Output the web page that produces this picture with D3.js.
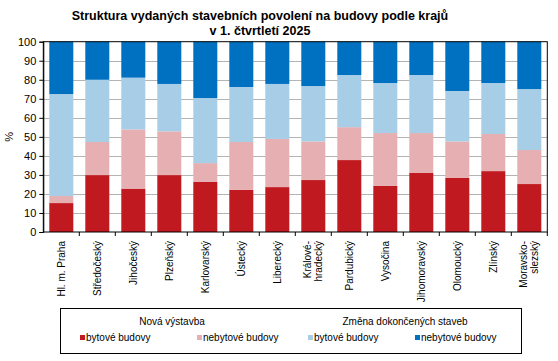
<!DOCTYPE html>
<html>
<head>
<meta charset="utf-8">
<script src="https://cdn.jsdelivr.net/npm/d3@7"></script>
<style>
  body { margin: 0; background: #fff; }
  text { font-family: "Liberation Sans", Arial, sans-serif; }
</style>
</head>
<body>
<div id="chart"></div>
<script>
const WIDTH = 558;
const HEIGHT = 361;

// plot area
const LEFT = 43.3, RIGHT = 547.3, TOP = 41.7, BOTTOM = 232;

const regions = [
  ["Hl. m. Praha"], ["Středočeský"], ["Jihočeský"], ["Plzeňský"], ["Karlovarský"],
  ["Ústecký"], ["Liberecký"], ["Králové-", "hradecký"], ["Pardubický"], ["Vysočina"],
  ["Jihomoravský"], ["Olomoucký"], ["Zlínský"], ["Moravsko-", "slezský"]
];
const regionKeys = regions.map(d => d.join(""));

// % shares
const novaByt    = [15.2, 29.9, 22.8, 29.9, 26.3, 22.1, 23.6, 27.3, 37.8, 24.2, 31.0, 28.4, 32.0, 25.2];
const novaNebyt  = [ 3.7, 17.4, 31.1, 23.0,  9.9, 25.2, 25.3, 20.3, 17.3, 27.8, 21.0, 19.2, 19.5, 17.9];
const zmenaByt   = [53.6, 32.7, 27.2, 24.9, 34.2, 28.9, 28.9, 29.1, 27.4, 26.3, 30.5, 26.5, 26.8, 32.0];
const zmenaNebyt = [27.5, 20.0, 18.9, 22.2, 29.6, 23.8, 22.2, 23.3, 17.5, 21.7, 17.5, 25.9, 21.7, 24.9];

const seriesKeys = ["novaByt", "novaNebyt", "zmenaByt", "zmenaNebyt"];
const seriesNames = ["bytové budovy", "nebytové budovy", "bytové budovy", "nebytové budovy"];
const colors = ["#C0191F", "#E6AFB2", "#A7CDE7", "#0070C0"];
const yTicks = [0, 10, 20, 30, 40, 50, 60, 70, 80, 90, 100];

const rows = regionKeys.map((k, i) => ({
  key: k,
  novaByt: novaByt[i], novaNebyt: novaNebyt[i],
  zmenaByt: zmenaByt[i], zmenaNebyt: zmenaNebyt[i]
}));

const svg = d3.select("#chart").append("svg")
  .attr("width", WIDTH)
  .attr("height", HEIGHT);

svg.append("rect").attr("width", WIDTH).attr("height", HEIGHT).attr("fill", "#fff");

const x = d3.scaleBand().domain(regionKeys).range([LEFT, RIGHT])
  .paddingInner(1 / 3).paddingOuter(1 / 6);
const y = d3.scaleLinear().domain([0, 100]).range([BOTTOM, TOP]);

// Title
const title = svg.append("text")
  .attr("text-anchor", "middle")
  .style("font-size", "12.5px")
  .style("font-weight", "bold");
title.append("tspan").attr("x", 260).attr("y", 19.5).text("Struktura vydaných stavebních povolení na budovy podle krajů");
title.append("tspan").attr("x", 260).attr("y", 35).text("v 1. čtvrtletí 2025");

// gridlines
svg.append("g")
  .selectAll("line")
  .data(yTicks.slice(1, -1))
  .join("line")
  .attr("x1", LEFT).attr("x2", RIGHT)
  .attr("y1", d => Math.round(y(d)) + 0.5).attr("y2", d => Math.round(y(d)) + 0.5)
  .attr("stroke", "#b4b4b4");

// bars
const stack = d3.stack().keys(seriesKeys)(rows);
svg.append("g")
  .selectAll("g")
  .data(stack)
  .join("g")
  .attr("fill", (d, i) => colors[i])
  .selectAll("rect")
  .data(d => d)
  .join("rect")
  .attr("x", d => x(d.data.key))
  .attr("width", x.bandwidth())
  .attr("y", d => y(d[1]))
  .attr("height", d => y(d[0]) - y(d[1]));

// frame
svg.append("rect")
  .attr("x", LEFT).attr("y", TOP)
  .attr("width", RIGHT - LEFT).attr("height", BOTTOM - TOP)
  .attr("fill", "none").attr("stroke", "#000");

// Y axis
const yAxis = svg.append("g")
  .attr("transform", "translate(" + LEFT + ",0)")
  .call(d3.axisLeft(y).tickValues(yTicks).tickSize(4).tickPadding(3));
yAxis.select(".domain").attr("stroke", "#000");
yAxis.selectAll("text").style("font-size", "11px").style("font-family", "Liberation Sans, Arial, sans-serif");

svg.append("text")
  .attr("transform", "translate(13," + ((TOP + BOTTOM) / 2) + ") rotate(-90)")
  .attr("text-anchor", "middle")
  .style("font-size", "11px")
  .text("%");

// X axis ticks between categories
const bounds = regionKeys.map(k => x(k) - x.step() * x.paddingInner() / 2).slice(1).concat([RIGHT]);
svg.append("g")
  .selectAll("line")
  .data(bounds)
  .join("line")
  .attr("x1", d => d).attr("x2", d => d)
  .attr("y1", BOTTOM).attr("y2", BOTTOM + 4)
  .attr("stroke", "#000");

// X labels
const xl = svg.append("g")
  .selectAll("text")
  .data(regions)
  .join("text")
  .attr("transform", (d, i) => "translate(" + (x(regionKeys[i]) + x.bandwidth() / 2) + ",241) rotate(-90)")
  .attr("text-anchor", "end")
  .style("font-size", "10px");
xl.each(function(d) {
  const t = d3.select(this);
  const off = (d.length - 1) * 0.55;
  d.forEach((line, j) => {
    t.append("tspan")
      .attr("x", 0)
      .attr("dy", j === 0 ? (0.35 - off) + "em" : "1.1em")
      .text(line);
  });
});

// Legend
const lg = svg.append("g");
lg.append("rect")
  .attr("x", 60.5).attr("y", 308.5).attr("width", 461).attr("height", 45)
  .attr("fill", "#fff").attr("stroke", "#000");
const groupTitles = ["Nová výstavba", "Změna dokončených staveb"];
const groupX = [172, 405];
lg.selectAll("text.gt")
  .data(groupTitles)
  .join("text")
  .attr("class", "gt")
  .attr("x", (d, i) => groupX[i]).attr("y", 325)
  .attr("text-anchor", "middle")
  .style("font-size", "10px")
  .text(d => d);
const itemX = [80, 197, 308, 415];
const items = lg.selectAll("g.item")
  .data(seriesNames)
  .join("g")
  .attr("class", "item")
  .attr("transform", (d, i) => "translate(" + itemX[i] + ",341)");
items.append("rect")
  .attr("x", 0).attr("y", -6).attr("width", 5).attr("height", 5)
  .attr("fill", (d, i) => colors[i]);
items.append("text")
  .attr("x", 6).attr("y", 0)
  .style("font-size", "10px")
  .text(d => d);
</script>
</body>
</html>
